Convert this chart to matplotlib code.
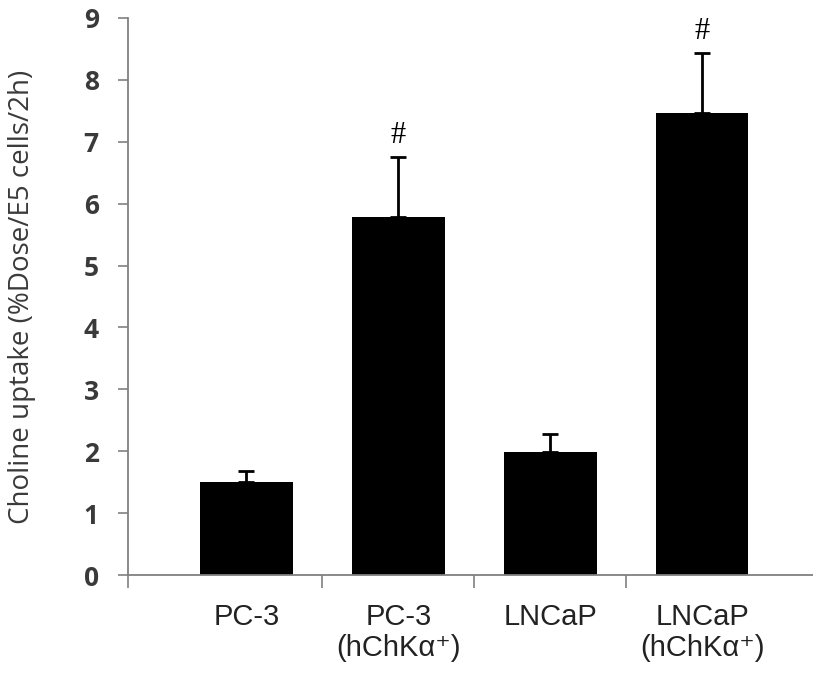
import matplotlib
matplotlib.use("Agg")
import matplotlib.pyplot as plt
import numpy as np

categories = ["PC-3", "PC-3\n(hChKα⁺)", "LNCaP", "LNCaP\n(hChKα⁺)"]
values = [1.50, 5.78, 1.99, 7.46]
errors = [0.18, 0.97, 0.29, 0.97]
marks = ["", "#", "", "#"]
yticks = [0, 1, 2, 3, 4, 5, 6, 7, 8, 9]

W, H = 813, 677
fig = plt.figure(figsize=(W / 100, H / 100), dpi=100)
left, right, bottom, top = 128, 813, 575, 18
ax = fig.add_axes([left / W, 1 - bottom / H, (right - left) / W, (bottom - top) / H])

x = np.arange(len(categories))
ax.bar(x, values, width=0.61, color="black", zorder=2)
ax.errorbar(x, values, yerr=[np.zeros(len(errors)), errors], fmt="none",
            ecolor="black", elinewidth=2.0, capsize=6, capthick=2.0, zorder=3)
for xi, v, e, m in zip(x, values, errors, marks):
    if m:
        ax.annotate(m, (xi, v + e), xytext=(0, 5), textcoords="offset points",
                    ha="center", va="bottom", fontsize=22, fontfamily="Liberation Serif")

ax.set_xlim(-0.78, 3.73)
ax.set_ylim(0, 9)
ax.set_yticks(yticks)
ax.set_yticklabels([str(t) for t in yticks], fontsize=19, fontweight="bold",
                   color="#3a3a3a", fontfamily="Open Sans")
ax.tick_params(axis="y", direction="out", length=7, width=1.2, color="#808080", pad=14)

ax.set_xticks([-0.78, 0.5, 1.5, 2.5], minor=True)
ax.set_xticks(x)
ax.set_xticklabels(categories, fontsize=21, fontfamily=["Liberation Sans", "DejaVu Sans"],
                   color="#222222", linespacing=1.15)
ax.tick_params(axis="x", which="major", length=0, pad=20)
ax.tick_params(axis="x", which="minor", direction="out", length=9, width=1.2, color="#808080")

for s in ["top", "right"]:
    ax.spines[s].set_visible(False)
for s in ["left", "bottom"]:
    ax.spines[s].set_color("#808080")
    ax.spines[s].set_linewidth(1.3)

ax.set_ylabel("Choline uptake (%Dose/E5 cells/2h)", fontsize=20, color="#3a3a3a",
              fontfamily="Open Sans")
ax.yaxis.set_label_coords(-(left - 36) / (right - left), 0.5)

fig.savefig("out.png", dpi=100)
